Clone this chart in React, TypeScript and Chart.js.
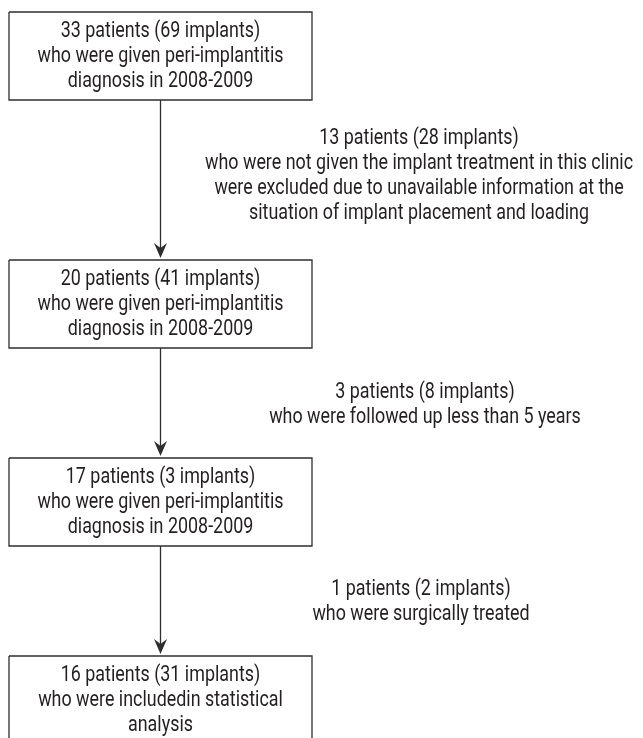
import React, { useEffect, useRef } from "react";
import { Chart, registerables } from "chart.js";

Chart.register(...registerables);

// ---- content ----
const boxTexts: string[][] = [
  ["33 patients (69 implants)", "who were given peri-implantitis", "diagnosis in 2008-2009"],
  ["20 patients (41 implants)", "who were given peri-implantitis", "diagnosis in 2008-2009"],
  ["17 patients (3 implants)", "who were given peri-implantitis", "diagnosis in 2008-2009"],
  ["16 patients (31 implants)", "who were includedin statistical", "analysis"],
];

const exclusionTexts: string[][] = [
  [
    "13 patients (28 implants)",
    "who were not given the implant treatment in this clinic",
    "were excluded due to unavailable information at the",
    "situation of implant placement and loading",
  ],
  ["3 patients (8 implants)", "who were followed up less than 5 years"],
  ["1 patients (2 implants)", "who were surgically treated"],
];

// ---- layout (in axis units) ----
const W = 643;
const H = 738;
const BOX_LEFT = 9;
const BOX_RIGHT = 312;
const BOX_TOPS = [12, 260, 458, 656];
const BOX_H = 88;
const ARROW_X = 160.5;
const LINE_GAP = 25;
const TEXT_OFFSET = 19; // first line centre below box top
const EXCL_X = [419, 425, 421];
const EXCL_Y = [176, 404.5, 602];

const INK = "#231f20";
const LINE = "#2e2e2e";
const FONT = "22px Roboto, 'Noto Sans', sans-serif";
const REF_STRING = "who were not given the implant treatment in this clinic";
const REF_WIDTH = 428; // condensed face width of the reference string

export default function App() {
  const ref = useRef<HTMLCanvasElement | null>(null);

  useEffect(() => {
    document.body.style.margin = "0";
    const canvas = ref.current;
    if (!canvas) return;

    const datasets: any[] = [];
    BOX_TOPS.forEach((top) => {
      const bottom = top + BOX_H;
      datasets.push({
        type: "line",
        data: [
          { x: BOX_LEFT, y: top },
          { x: BOX_RIGHT, y: top },
          { x: BOX_RIGHT, y: bottom },
          { x: BOX_LEFT, y: bottom },
          { x: BOX_LEFT, y: top },
        ],
        borderColor: LINE,
        borderWidth: 1.3,
        pointRadius: 0,
        fill: false,
        tension: 0,
        clip: false,
      });
    });
    for (let i = 0; i < BOX_TOPS.length - 1; i++) {
      datasets.push({
        type: "line",
        data: [
          { x: ARROW_X, y: BOX_TOPS[i] + BOX_H },
          { x: ARROW_X, y: BOX_TOPS[i + 1] - 6 },
        ],
        borderColor: LINE,
        borderWidth: 1.3,
        pointRadius: 0,
        fill: false,
        clip: false,
      });
    }

    const flowPlugin = {
      id: "flow",
      afterDatasetsDraw(chart: any) {
        const ctx = chart.ctx as CanvasRenderingContext2D;
        const xs = chart.scales.x;
        const ys = chart.scales.y;
        ctx.save();
        // arrow heads
        ctx.fillStyle = LINE;
        for (let i = 1; i < BOX_TOPS.length; i++) {
          const px = xs.getPixelForValue(ARROW_X);
          const tip = ys.getPixelForValue(BOX_TOPS[i] - 2);
          ctx.beginPath();
          ctx.moveTo(px, tip);
          ctx.lineTo(px - 6.5, tip - 15);
          ctx.lineTo(px, tip - 10);
          ctx.lineTo(px + 6.5, tip - 15);
          ctx.closePath();
          ctx.fill();
        }
        // texts (condensed by horizontal scaling)
        ctx.fillStyle = INK;
        ctx.font = FONT;
        ctx.textAlign = "center";
        ctx.textBaseline = "middle";
        const sx = REF_WIDTH / ctx.measureText(REF_STRING).width;
        const draw = (t: string, x: number, y: number) => {
          ctx.save();
          ctx.translate(xs.getPixelForValue(x), ys.getPixelForValue(y));
          ctx.scale(sx, 1);
          ctx.fillText(t, 0, 0);
          ctx.restore();
        };
        const cx = (BOX_LEFT + BOX_RIGHT) / 2;
        boxTexts.forEach((lines, i) => {
          lines.forEach((t, j) => {
            draw(t, cx, BOX_TOPS[i] + TEXT_OFFSET + j * LINE_GAP);
          });
        });
        exclusionTexts.forEach((lines, i) => {
          const start = EXCL_Y[i] - ((lines.length - 1) * LINE_GAP) / 2;
          lines.forEach((t, j) => {
            draw(t, EXCL_X[i], start + j * LINE_GAP);
          });
        });
        ctx.restore();
      },
    };

    const chart = new Chart(canvas, {
      type: "line",
      data: { datasets },
      options: {
        animation: false,
        responsive: false,
        maintainAspectRatio: false,
        layout: { padding: 0 },
        plugins: { legend: { display: false }, tooltip: { enabled: false } },
        scales: {
          x: { type: "linear", min: 0, max: W, display: false },
          y: { type: "linear", min: 0, max: H, reverse: true, display: false },
        },
      },
      plugins: [flowPlugin],
    });
    return () => chart.destroy();
  }, []);

  return (
    <div style={{ width: W, height: H, background: "#fff" }}>
      <canvas ref={ref} width={W} height={H} style={{ display: "block" }} />
    </div>
  );
}
